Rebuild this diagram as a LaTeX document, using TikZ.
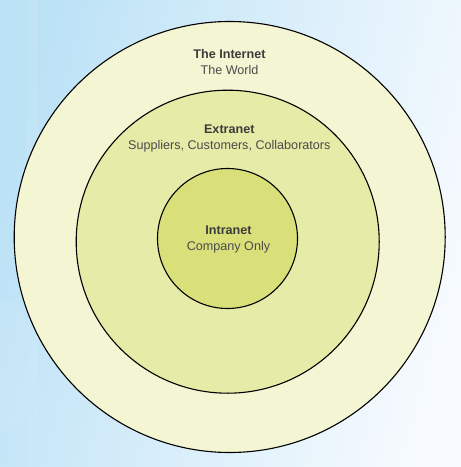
\documentclass[tikz,border=0pt]{standalone}
\usepackage{fontspec}
\setmainfont{Liberation Sans}
\usepackage{tikz}
\usetikzlibrary{calc}
\usetikzlibrary{shapes}

\definecolor{bgblue}{RGB}{188,226,246}
\definecolor{bgpale}{RGB}{246,250,254}
\definecolor{worldfill}{RGB}{243,245,211}
\definecolor{extrafill}{RGB}{230,235,168}
\definecolor{intrafill}{RGB}{217,224,122}
\definecolor{labeltext}{RGB}{60,60,60}

\begin{document}
\begin{tikzpicture}[x=1bp, y=-1bp,
        ring_style/.style={circle,draw=black,line width=1.1bp,inner sep=0pt},
        title_style/.style={anchor=base,text=labeltext,font=\fontsize{12.6bp}{15bp}\selectfont\bfseries},
        sub_style/.style={anchor=base,text=labeltext!92!white,font=\fontsize{12.6bp}{15bp}\selectfont}]

        \useasboundingbox (0,0) rectangle (461,467);
        \shade [left color=bgblue, right color=bgpale, shading angle=75] (0,0) rectangle (461,467);
        \fill [white, opacity=0.07, rounded corners=22bp] (-30,300) rectangle (26,432);
        \fill [white, opacity=0.07] (27,0) rectangle (38,467);

        \node [ring_style,fill=worldfill,minimum size=431bp](internet) at (229.7,237) {};

        \node [ring_style,fill=extrafill,minimum size=303bp](extranet) at (227.7,241.7) {};

        \node [ring_style,fill=intrafill,minimum size=140bp](intranet) at (227.5,238.5) {};

        \node [title_style](internet_title) at (229.5,58.7) {The Internet};
        \node [sub_style](internet_sub) at (229.5,74.2) {The World};

        \node [title_style](extranet_title) at (229.3,134) {Extranet};
        \node [sub_style](extranet_sub) at (229.3,149.3) {Suppliers, Customers, Collaborators};

        \node [title_style](intranet_title) at (228.5,234.7) {Intranet};
        \node [sub_style](intranet_sub) at (228.5,250.5) {Company Only};

        \end{tikzpicture}
\end{document}
